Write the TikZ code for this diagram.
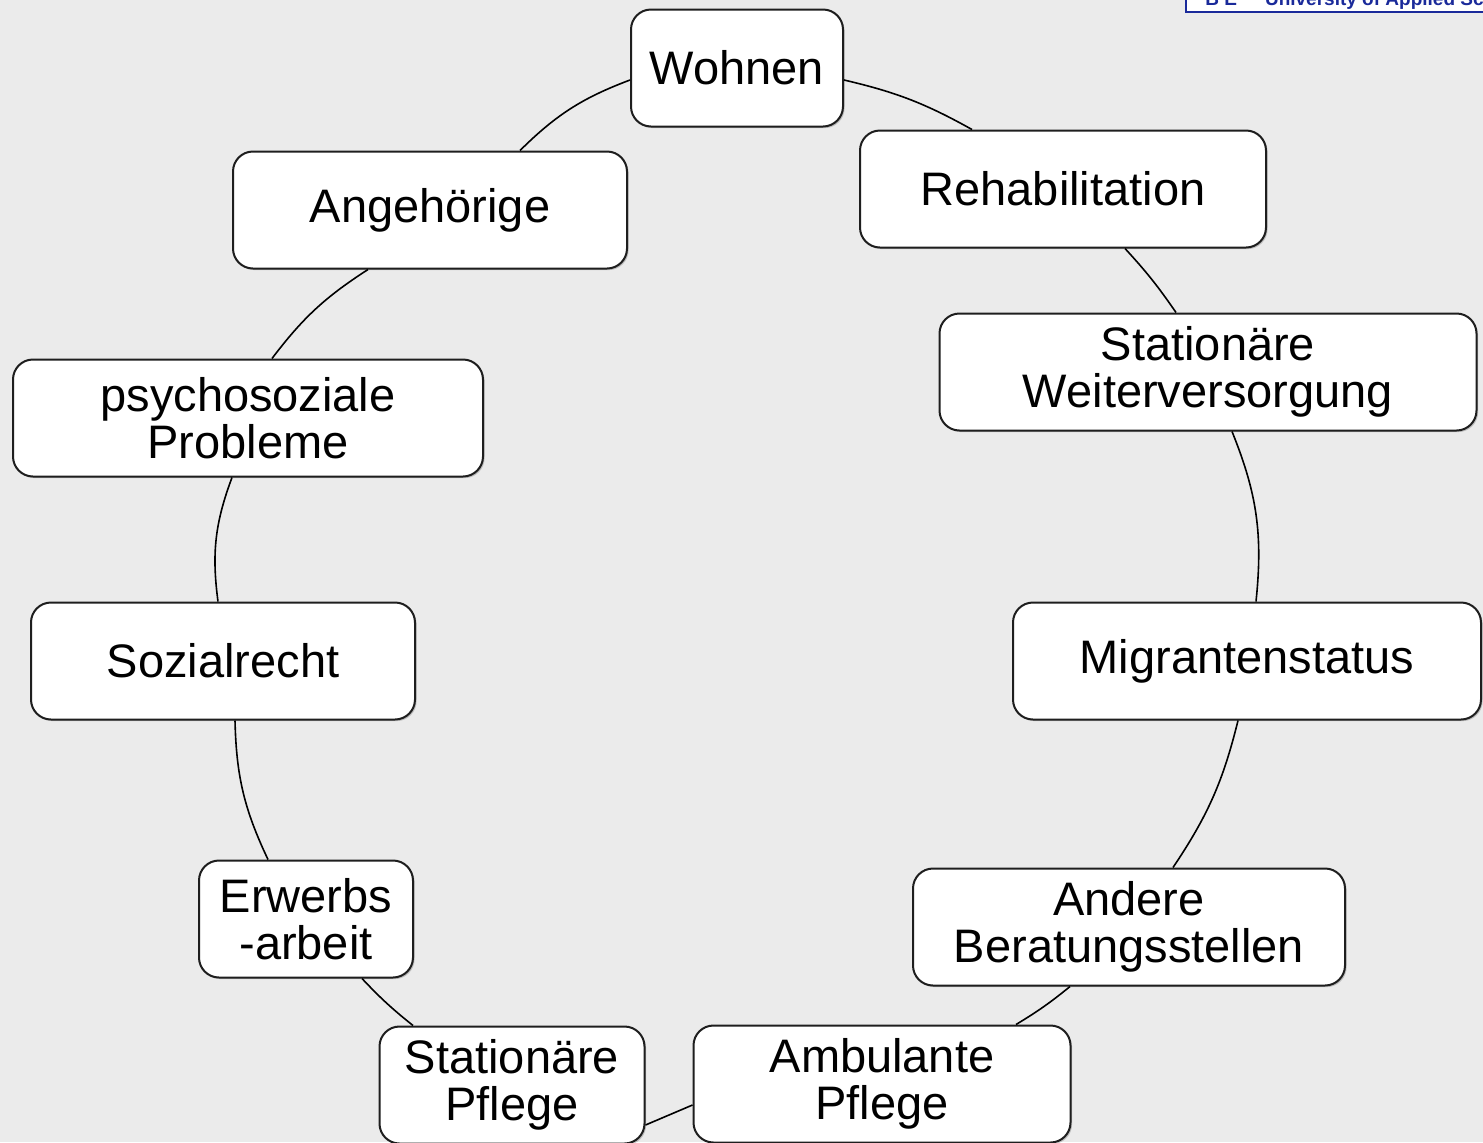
\documentclass[tikz,border=0pt]{standalone}
\usepackage{fontspec}
\setmainfont{Liberation Sans}
\usetikzlibrary{calc,shadows}
\definecolor{bg}{HTML}{EBEBEB}
\definecolor{edge}{HTML}{1E1E1E}
\definecolor{logoblue}{HTML}{1A2A9A}
\tikzset{
  topic/.style={draw=edge, line width=1pt, fill=white, rounded corners=10pt,
    minimum height=58.5pt, inner sep=0pt, align=center,
    font=\fontsize{23.5}{23.5}\selectfont,
    drop shadow={shadow xshift=0.8pt, shadow yshift=-0.8pt, opacity=0.35, fill=black!60}},
  link/.style={draw=black, line width=0.8pt}
}
\begin{document}
\begin{tikzpicture}[x=0.5pt, y=-0.5pt]
\useasboundingbox (0,0) rectangle (1483,1142);
\fill[bg] (0,0) rectangle (1483,1142);
% partial logo box at the top right
\begin{scope}
\clip (0,0) rectangle (1483,1142);
\draw[logoblue, line width=1pt, fill=white] (1186,-40) rectangle (1520,12);
\node[anchor=base west, text=logoblue, font=\bfseries\fontsize{9.5}{9.5}\selectfont, inner sep=0pt] (logo) at (1205,5) {B E\hspace{14pt}University of Applied Sciences};
\end{scope}

\node[topic, minimum width=106pt] (woh) at (737,68) {Wohnen};
\node[topic, minimum width=203pt] (reh) at (1063,189) {Rehabilitation};
\node[topic, minimum width=197pt] (ang) at (430,210) {Angehörige};
\node[topic, minimum width=268.5pt] (stw) at (1208,372) {Stationäre\\Weiterversorgung};
\node[topic, minimum width=235pt] (psy) at (248,418) {psychosoziale\\Probleme};
\node[topic, minimum width=192pt] (soz) at (223,661) {Sozialrecht};
\node[topic, minimum width=234pt] (mig) at (1247,661) {Migrantenstatus};
\node[topic, minimum width=107pt] (erw) at (306,919) {Erwerbs\\-arbeit};
\node[topic, minimum width=216pt] (and) at (1129,927) {Andere\\Beratungsstellen};
\node[topic, minimum width=132.5pt] (stp) at (512,1085) {Stationäre\\Pflege};
\node[topic, minimum width=188.5pt] (amb) at (882,1084) {Ambulante\\Pflege};

% connectors (clockwise around the ring)
\draw[link] ($(ang.north)+(90,0)$) to[bend left=12] ($(woh.west)+(0,12)$);
\draw[link] ($(woh.east)+(0,12)$) to[bend left=8] ($(reh.north)+(-91,0)$);
\draw[link] ($(reh.south)+(62,0)$) to[bend left=4] ($(stw.north)+(-32,0)$);
\draw[link] ($(stw.south)+(24,0)$) to[bend left=14] ($(mig.north)+(9,0)$);
\draw[link] ($(mig.south)+(-9,0)$) to[bend left=10] ($(and.north)+(44,0)$);
\draw[link] ($(and.south)+(-59,0)$) to[bend left=4] ($(amb.north)+(134,0)$);
\draw[link] ($(amb.west)+(0,21)$) -- ($(stp.east)+(0,40)$);
\draw[link] ($(stp.north)+(-99,0)$) to[bend left=4] ($(erw.south)+(56,0)$);
\draw[link] ($(erw.north)+(-38,0)$) to[bend left=12] ($(soz.south)+(12,0)$);
\draw[link] ($(soz.north)+(-5,0)$) to[bend left=14] ($(psy.south)+(-16,0)$);
\draw[link] ($(psy.north)+(24,0)$) to[bend left=10] ($(ang.south)+(-62,0)$);
\end{tikzpicture}
\end{document}
